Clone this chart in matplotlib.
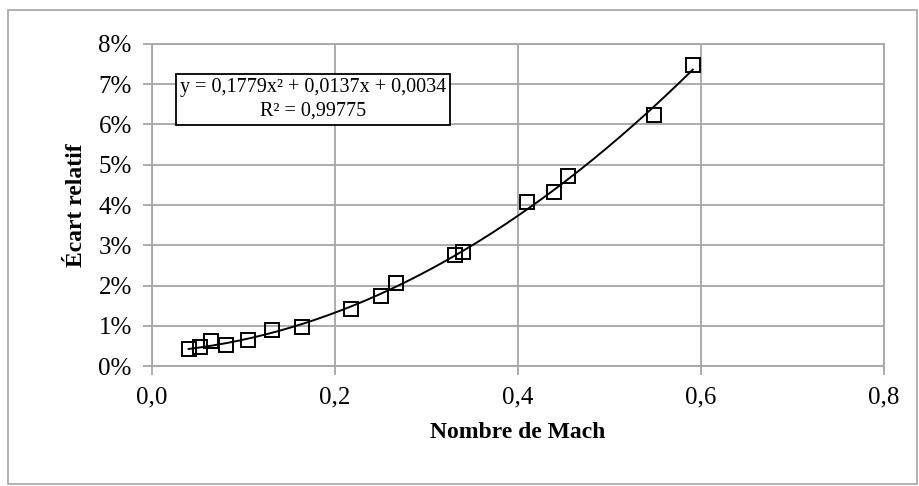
import matplotlib
matplotlib.use("Agg")
import matplotlib.pyplot as plt
from matplotlib.patches import Rectangle
from matplotlib.ticker import FuncFormatter, MultipleLocator
import numpy as np

# Measured points: Mach number vs relative deviation (fraction)
mach = [0.040, 0.053, 0.065, 0.0805, 0.105, 0.131, 0.164, 0.217, 0.250,
        0.2667, 0.331, 0.340, 0.4095, 0.4397, 0.4543, 0.549, 0.591]
ecart = [0.0042, 0.0046, 0.0062, 0.0052, 0.0065, 0.0089, 0.0096, 0.0142,
         0.0174, 0.0205, 0.0275, 0.0282, 0.0408, 0.0432, 0.0472, 0.0624, 0.0747]

# Polynomial trend (order 2) coefficients and its R²
coef_a, coef_b, coef_c = 0.1779, 0.0137, 0.0034
r_squared = 0.99775

plt.rcParams['font.family'] = ['Liberation Serif', 'DejaVu Serif']

W, H = 920, 486
fig = plt.figure(figsize=(W / 100, H / 100), dpi=100)

# chart frame
fig.patches.append(Rectangle((8 / W, 1 - 484 / H), 909 / W, 474 / H,
                             transform=fig.transFigure, fill=False,
                             edgecolor='#a6a6a6', linewidth=1.2))

left, right, top, bottom = 152, 884, 44, 366
ax = fig.add_axes([left / W, 1 - bottom / H, (right - left) / W, (bottom - top) / H])

grid_col = '#a6a6a6'
ax.set_xlim(0, 0.8)
ax.set_ylim(0, 0.08)
ax.xaxis.set_major_locator(MultipleLocator(0.2))
ax.yaxis.set_major_locator(MultipleLocator(0.01))
ax.grid(True, color=grid_col, linewidth=1.3)
ax.set_axisbelow(True)
for s in ax.spines.values():
    s.set_color(grid_col)
    s.set_linewidth(1.3)
ax.tick_params(axis='both', colors=grid_col, length=6.5, width=1.3,
               labelcolor='black', labelsize=18)
ax.tick_params(axis='x', pad=8)
ax.tick_params(axis='y', pad=8)
ax.xaxis.set_major_formatter(FuncFormatter(lambda v, p: f"{v:.1f}".replace('.', ',')))
ax.yaxis.set_major_formatter(FuncFormatter(lambda v, p: f"{v * 100:.0f}%"))

# trend curve over the data range
xs = np.linspace(min(mach), max(mach), 200)
ax.plot(xs, coef_a * xs ** 2 + coef_b * xs + coef_c, color='black', linewidth=1.4, zorder=3)

ax.plot(mach, ecart, linestyle='none', marker='s', markersize=10,
        markerfacecolor='none', markeredgecolor='black', markeredgewidth=1.4, zorder=4)

ax.set_xlabel('Nombre de Mach', fontsize=17, fontweight='bold', labelpad=10)
ax.set_ylabel('Écart relatif', fontsize=17, fontweight='bold', labelpad=8)

# equation of the trend curve in a framed label
eq = (f"y = {coef_a:.4f}x² + {coef_b:.4f}x + {coef_c:.4f}\n"
      f"R² = {r_squared:.5f}").replace('.', ',')
ax.text(0.176, 0.0662, eq, fontsize=14.5, ha='center', va='center',
        multialignment='center', linespacing=1.3, zorder=6,
        bbox=dict(boxstyle='square,pad=0.2', facecolor='white',
                  edgecolor='black', linewidth=1.3))

fig.savefig('out.png', dpi=100)
